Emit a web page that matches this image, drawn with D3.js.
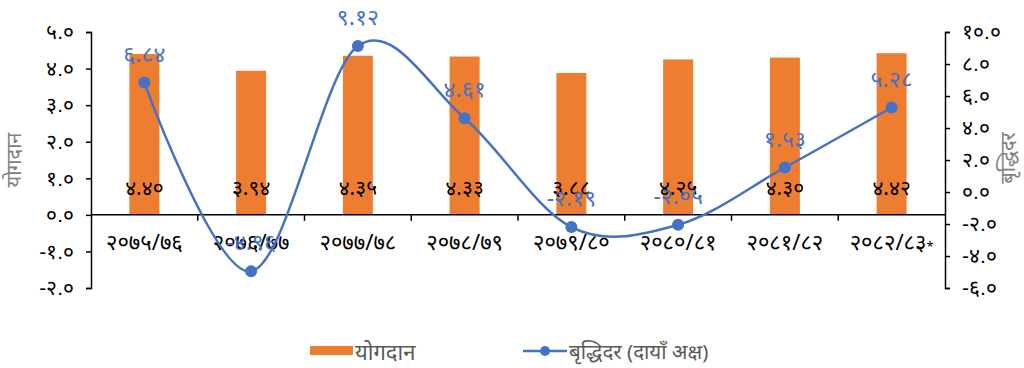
<!DOCTYPE html>
<html>
<head>
<meta charset="utf-8">
<script src="https://cdn.jsdelivr.net/npm/d3@7"></script>
<style>
  html, body { margin: 0; padding: 0; background: #fff; }
  svg { display: block; font-family: "Noto Sans", "DejaVu Sans", sans-serif; }
</style>
</head>
<body>
<svg id="chart" width="1024" height="368"></svg>
<script>
// Fiscal years (last one provisional, marked with *)
const categories = ["२०७५/७६", "२०७६/७७", "२०७७/७८", "२०७८/७९", "२०७९/८०", "२०८०/८१", "२०८१/८२", "२०८२/८३*"];
// Contribution (left axis)
const contribution = [4.40, 3.94, 4.35, 4.33, 3.88, 4.25, 4.30, 4.42];
// Growth rate (right axis)
const growth = [6.84, -4.96, 9.12, 4.61, -2.19, -2.05, 1.53, 5.28];
// Axis ticks
const leftTicks = [-2, -1, 0, 1, 2, 3, 4, 5];
const rightTicks = [-6, -4, -2, 0, 2, 4, 6, 8, 10];

const barColor = "#ED7D31";
const lineColor = "#4472C4";

const devDigits = "०१२३४५६७८९";
const toDev = s => String(s).replace(/[0-9]/g, d => devDigits[+d]);
const fmt1 = v => toDev(v.toFixed(1));
const fmt2 = v => toDev(v.toFixed(2));

const svg = d3.select("#chart");
const plotLeft = 91, plotRight = 945, plotTop = 32, plotBottom = 288;

const x = d3.scaleBand().domain(categories).range([plotLeft, plotRight]).paddingInner(0).paddingOuter(0);
const yL = d3.scaleLinear().domain([-2, 5]).range([plotBottom, plotTop]);
const yR = d3.scaleLinear().domain([-6, 10]).range([plotBottom, plotTop]);

const barW = 30;

// Bars
svg.append("g").selectAll("rect")
  .data(contribution)
  .join("rect")
  .attr("x", (d, i) => x(categories[i]) + x.bandwidth() / 2 - barW / 2)
  .attr("y", d => yL(Math.max(0, d)))
  .attr("width", barW)
  .attr("height", d => Math.abs(yL(d) - yL(0)))
  .attr("fill", barColor);

// Left axis
const gL = svg.append("g")
  .attr("transform", `translate(${plotLeft},0)`)
  .call(d3.axisLeft(yL).tickValues(leftTicks).tickFormat(fmt1).tickSize(5).tickPadding(12));
// Right axis
const gR = svg.append("g")
  .attr("transform", `translate(${plotRight},0)`)
  .call(d3.axisRight(yR).tickValues(rightTicks).tickFormat(fmt1).tickSize(5).tickPadding(12));

[gL, gR].forEach(g => {
  g.select(".domain").attr("stroke", "#000").attr("stroke-width", 1.5);
  g.selectAll(".tick line").attr("stroke", "#000").attr("stroke-width", 1.5);
  g.selectAll(".tick text").attr("font-size", 21).attr("fill", "#000");
});

// Category axis along zero line
const gX = svg.append("g").attr("transform", `translate(0,${yL(0)})`);
gX.append("line").attr("x1", plotLeft).attr("x2", plotRight).attr("stroke", "#000").attr("stroke-width", 1.5);
gX.selectAll("line.tk")
  .data(categories.slice(1))
  .join("line")
  .attr("class", "tk")
  .attr("x1", d => x(d)).attr("x2", d => x(d))
  .attr("y1", 0).attr("y2", 6)
  .attr("stroke", "#000").attr("stroke-width", 1.5);
const catText = gX.selectAll("text")
  .data(categories)
  .join("text")
  .attr("x", d => x(d) + x.bandwidth() / 2)
  .attr("y", 27)
  .attr("dy", "0.35em")
  .attr("text-anchor", "middle")
  .attr("font-size", 22)
  .attr("fill", "#000");
catText.append("tspan").text(d => d.replace("*", ""));
catText.filter(d => d.endsWith("*")).append("tspan")
  .attr("font-size", 13).attr("dy", "0.1em").text("*");

// Bar value labels
svg.append("g").selectAll("text")
  .data(contribution)
  .join("text")
  .attr("x", (d, i) => x(categories[i]) + x.bandwidth() / 2)
  .attr("y", 188)
  .attr("dy", "0.35em")
  .attr("text-anchor", "middle")
  .attr("font-size", 21)
  .attr("fill", "#000")
  .text(fmt2);

// Growth line
const cx = (d, i) => x(categories[i]) + x.bandwidth() / 2;
const line = d3.line().x(cx).y(d => yR(d)).curve(d3.curveCatmullRom.alpha(0));
svg.append("path")
  .datum(growth)
  .attr("d", line)
  .attr("fill", "none")
  .attr("stroke", lineColor)
  .attr("stroke-width", 2.5);

svg.append("g").selectAll("circle")
  .data(growth)
  .join("circle")
  .attr("cx", cx)
  .attr("cy", d => yR(d))
  .attr("r", 6)
  .attr("fill", lineColor);

svg.append("g").selectAll("text")
  .data(growth)
  .join("text")
  .attr("x", cx)
  .attr("y", d => yR(d) - 29)
  .attr("dy", "0.35em")
  .attr("text-anchor", "middle")
  .attr("font-size", 23)
  .attr("fill", lineColor)
  .text(fmt2);

// Axis titles
svg.append("text")
  .attr("transform", `translate(14,160) rotate(-90)`)
  .attr("text-anchor", "middle")
  .attr("dy", "0.35em")
  .attr("font-size", 20)
  .attr("fill", "#808080")
  .text("योगदान");
svg.append("text")
  .attr("transform", `translate(1008,158) rotate(-90)`)
  .attr("text-anchor", "middle")
  .attr("dy", "0.35em")
  .attr("font-size", 20)
  .attr("fill", "#808080")
  .text("बृद्धिदर");

// Legend
const lg = svg.append("g");
lg.append("rect").attr("x", 310).attr("y", 346).attr("width", 43).attr("height", 9).attr("fill", barColor);
lg.append("text").attr("x", 355).attr("y", 352).attr("dy", "0.35em").attr("font-size", 22).attr("fill", "#595959").text("योगदान");
lg.append("line").attr("x1", 523).attr("x2", 567).attr("y1", 351).attr("y2", 351).attr("stroke", lineColor).attr("stroke-width", 2.5);
lg.append("circle").attr("cx", 545).attr("cy", 351).attr("r", 5).attr("fill", lineColor);
lg.append("text").attr("x", 569).attr("y", 352).attr("dy", "0.35em").attr("font-size", 20.5).attr("fill", "#595959").text("बृद्धिदर (दायाँ अक्ष)");
</script>
</body>
</html>
